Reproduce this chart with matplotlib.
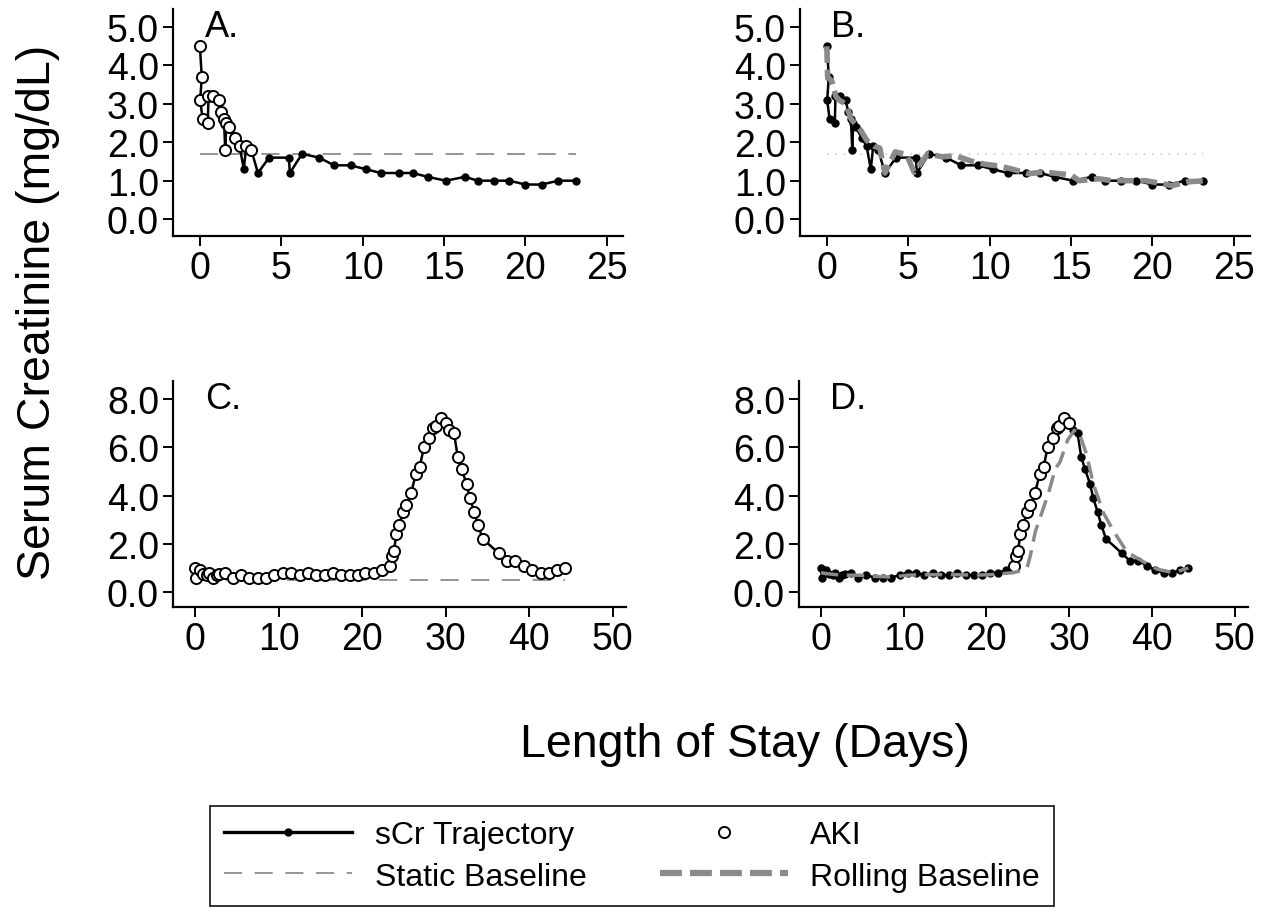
import matplotlib
matplotlib.use("Agg")
import matplotlib.pyplot as plt
from matplotlib.lines import Line2D
from matplotlib.ticker import FormatStrFormatter

plt.rcParams['font.family'] = ['Liberation Sans', 'DejaVu Sans']

# patient 1 (panels A, B)
t1 = [0.00, 0.12, 0.02, 0.17, 0.49, 0.53, 0.80, 1.15, 1.31, 1.48, 1.56, 1.62, 1.77,
      2.17, 2.44, 2.70, 2.85, 3.16, 3.57, 4.25, 5.47, 5.53, 6.28, 7.33, 8.25, 9.27,
      10.18, 11.12, 12.21, 13.09, 14.00, 15.12, 16.28, 17.09, 18.07, 19.02, 20.00,
      21.00, 22.03, 23.09]
scr1 = [4.5, 3.7, 3.1, 2.6, 2.5, 3.2, 3.2, 3.1, 2.8, 2.6, 1.8, 2.5, 2.4,
        2.1, 1.9, 1.3, 1.9, 1.8, 1.2, 1.6, 1.6, 1.2, 1.7, 1.6, 1.4, 1.4,
        1.3, 1.2, 1.2, 1.2, 1.1, 1.0, 1.1, 1.0, 1.0, 1.0, 0.9,
        0.9, 1.0, 1.0]
aki1_a = [1] * 18 + [0] * 22
aki1_a[15] = 0
static1 = 1.7
roll_t1 = [0.0, 0.05, 0.3, 0.55, 0.75, 1.15, 1.5, 1.7, 2.1, 2.45, 2.9, 3.25, 3.57,
           4.2, 4.9, 5.36, 6.2, 7.1, 7.9, 8.95, 9.7, 10.6, 11.4, 12.4, 13.2, 13.9,
           15.0, 15.5, 16.7, 17.5, 18.6, 19.6, 20.5, 21.2, 22.1, 23.3]
roll_v1 = [4.5, 3.7, 3.6, 3.2, 3.1, 3.0, 2.6, 2.5, 2.3, 2.05, 1.9, 1.85, 1.2,
           1.75, 1.68, 1.22, 1.7, 1.62, 1.65, 1.5, 1.43, 1.38, 1.3, 1.18, 1.22, 1.2,
           1.15, 1.0, 1.05, 1.0, 1.0, 1.0, 0.93, 0.87, 0.97, 1.0]

# patient 2 (panels C, D)
t2 = [0.0, 0.1, 0.6, 1.0, 1.4, 1.7, 2.2, 2.6, 2.9, 3.6, 4.5, 5.5, 6.5, 7.5, 8.5,
      9.5, 10.5, 11.5, 12.5, 13.5, 14.5, 15.5, 16.5, 17.5, 18.5, 19.5, 20.4, 21.4,
      22.4, 23.3, 23.6, 23.8, 24.1, 24.45, 24.9, 25.3, 25.85, 26.45, 26.9, 27.4,
      28.0, 28.5, 28.8, 29.4, 30.0, 30.4, 31.0, 31.45, 31.9, 32.5, 32.9, 33.45,
      33.85, 34.45, 36.4, 37.3, 38.3, 39.4, 40.4, 41.4, 42.4, 43.35, 44.35]
scr2 = [1.0, 0.6, 0.9, 0.75, 0.7, 0.8, 0.6, 0.7, 0.75, 0.8, 0.6, 0.7, 0.6, 0.6, 0.6,
        0.7, 0.8, 0.8, 0.7, 0.8, 0.7, 0.7, 0.8, 0.7, 0.7, 0.7, 0.8, 0.8,
        0.9, 1.1, 1.5, 1.7, 2.4, 2.8, 3.3, 3.6, 4.1, 4.9, 5.2, 6.0,
        6.4, 6.8, 6.9, 7.2, 7.0, 6.7, 6.6, 5.6, 5.1, 4.5, 3.9, 3.3,
        2.8, 2.2, 1.6, 1.3, 1.3, 1.1, 0.9, 0.8, 0.8, 0.9, 1.0]
static2 = 0.5
roll_t2 = [0.0, 1.0, 2.5, 4.5, 6.5, 8.5, 10.5, 12.5, 14.5, 16.5, 18.5, 20.5, 22.4,
           23.2, 24.3, 24.9, 25.3, 25.9, 26.7, 27.5, 28.3, 28.9, 29.8, 30.6, 31.1,
           32.1, 32.9, 34.1, 35.4, 37.0, 39.0, 40.6, 42.6, 44.4]
roll_v2 = [0.8, 0.75, 0.7, 0.7, 0.65, 0.62, 0.7, 0.72, 0.72, 0.72, 0.7, 0.72, 0.78,
           0.8, 0.9, 1.0, 1.5, 2.5, 3.3, 4.1, 5.1, 5.4, 6.3, 6.7, 6.7,
           5.7, 4.5, 3.3, 2.5, 1.65, 1.25, 0.95, 0.8, 1.0]
aki2_d = [1 if 23.2 < t <= 30.0 else 0 for t in t2]

fig = plt.figure(figsize=(12.7, 9.12), dpi=100)
W, H = 1270, 912


def box(l, t, r, b):
    return [l / W, 1 - b / H, (r - l) / W, (b - t) / H]


axA = fig.add_axes(box(173, 10, 623, 237))
axB = fig.add_axes(box(800, 10, 1250, 237))
axC = fig.add_axes(box(173, 382, 626, 608))
axD = fig.add_axes(box(799, 382, 1248, 608))

lw = 1.8
for ax in [axA, axB, axC, axD]:
    for s in ['top', 'right']:
        ax.spines[s].set_visible(False)
    for s in ['left', 'bottom']:
        ax.spines[s].set_linewidth(1.6)
    ax.tick_params(labelsize=27, length=7, width=1.4, direction='out', pad=3)
    ax.yaxis.set_major_formatter(FormatStrFormatter('%.1f'))

# A
axA.plot([0, 23.09], [static1, static1], color='#8c8c8c', lw=1.3, dashes=(10, 7))
axA.plot(t1, scr1, color='black', lw=lw, zorder=3)
axA.plot([t for t, a in zip(t1, aki1_a) if not a], [v for v, a in zip(scr1, aki1_a) if not a],
         'o', color='black', ms=5, zorder=4)
axA.plot([t for t, a in zip(t1, aki1_a) if a], [v for v, a in zip(scr1, aki1_a) if a],
         'o', mfc='white', mec='black', mew=1.4, ms=8, zorder=5)

# B
axB.plot([0, 23.09], [static1, static1], color='#cfcfcf', lw=1.2, ls=(0, (1, 4)))
axB.plot(t1, scr1, color='black', lw=lw, zorder=3)
axB.plot(t1, scr1, 'o', color='black', ms=5, zorder=4)
axB.plot(roll_t1, roll_v1, color='#8a8a8a', lw=4, dashes=(3, 1.2), zorder=5)

# C
axC.plot([0, 44.35], [static2, static2], color='#8c8c8c', lw=1.3, dashes=(10, 7))
axC.plot(t2, scr2, color='black', lw=lw, zorder=3)
axC.plot(t2, scr2, 'o', mfc='white', mec='black', mew=1.4, ms=8, zorder=5)

# D
axD.plot(t2, scr2, color='black', lw=lw, zorder=3)
axD.plot([t for t, a in zip(t2, aki2_d) if not a], [v for v, a in zip(scr2, aki2_d) if not a],
         'o', color='black', ms=5, zorder=4)
axD.plot([t for t, a in zip(t2, aki2_d) if a], [v for v, a in zip(scr2, aki2_d) if a],
         'o', mfc='white', mec='black', mew=1.4, ms=8, zorder=5)
axD.plot(roll_t2, roll_v2, color='#8a8a8a', lw=2.5, dashes=(5, 2.5), zorder=6)

for ax in [axA, axB]:
    ax.set_xlim(-1.65, 26.0)
    ax.set_ylim(-0.44, 5.47)
    ax.set_xticks([0, 5, 10, 15, 20, 25])
    ax.set_yticks([0, 1, 2, 3, 4, 5])
for ax in [axC, axD]:
    ax.set_xlim(-2.65, 51.6)
    ax.set_ylim(-0.62, 8.75)
    ax.set_xticks([0, 10, 20, 30, 40, 50])
    ax.set_yticks([0, 2, 4, 6, 8])

for ax, lab in zip([axA, axB, axC, axD], ['A.', 'B.', 'C.', 'D.']):
    ax.text(0.07, 1.0, lab, transform=ax.transAxes, fontsize=26, va='top', ha='left')

fig.text(38 / W, 1 - 312 / H, 'Serum Creatinine (mg/dL)', rotation=90,
         fontsize=33.5, ha='center', va='center')
fig.text(745 / W, 1 - 745 / H, 'Length of Stay (Days)', fontsize=33.5,
         ha='center', va='center')

handles = [
    Line2D([], [], color='black', lw=lw + 0.6, marker='o', ms=5),
    Line2D([], [], color='#8c8c8c', lw=1.3, dashes=(10, 7)),
    Line2D([], [], ls='none', marker='o', mfc='white', mec='black', mew=1.4, ms=8),
    Line2D([], [], color='#8a8a8a', lw=4.5, dashes=(3.5, 1.3)),
]
labels = ['sCr Trajectory', 'Static Baseline', 'AKI', 'Rolling Baseline']
leg = fig.legend(handles, labels, ncol=2, loc='center', bbox_to_anchor=(632 / W, 1 - 857 / H),
                 fontsize=23, frameon=True, fancybox=False, edgecolor='black',
                 handlelength=4.0, columnspacing=2.3, handletextpad=0.7,
                 borderpad=0.45, labelspacing=0.35, borderaxespad=0)
leg.get_frame().set_linewidth(1.4)

fig.savefig('out.png', dpi=100)
